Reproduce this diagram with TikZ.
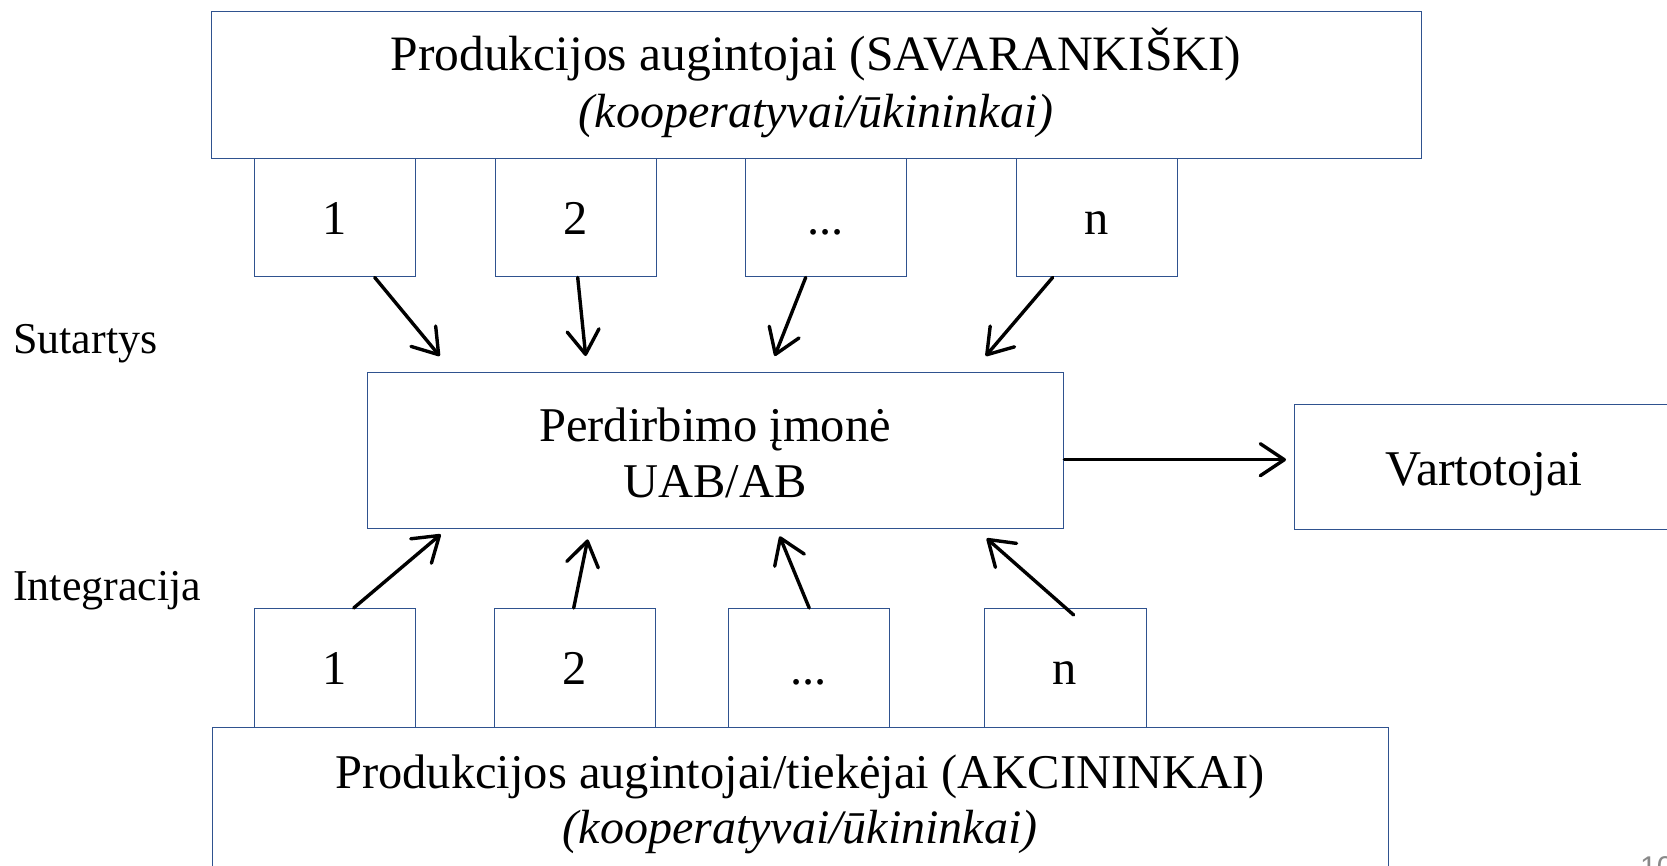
\documentclass[tikz,border=0pt]{standalone}
\usepackage{fontspec}
\setmainfont{Liberation Serif}
\newfontfamily\pagefont{Liberation Sans}
\usetikzlibrary{arrows.meta,calc}
\definecolor{boxblue}{RGB}{47,82,143}
\definecolor{pagegrey}{RGB}{137,137,137}
\begin{document}
\begin{tikzpicture}[x=1pt,y=-1pt,
  box/.style={draw=boxblue, line width=1.4pt, rectangle, inner sep=0pt, anchor=north west},
  txt/.style={inner sep=0pt, anchor=base, font=\fontsize{48.5}{56}\selectfont},
  itxt/.style={inner sep=0pt, anchor=base, font=\fontsize{48}{56}\selectfont\itshape},
  lbl/.style={inner sep=0pt, anchor=base west, font=\fontsize{44}{52}\selectfont},
  arr/.style={line width=3.4pt, line cap=round, -{Straight Barb[length=24pt,width=32pt,round]}}
]
\fill[white] (0,0) rectangle (1667,865);
\useasboundingbox (0,0) rectangle (1667,865);

% top group
\node[box, minimum width=1210, minimum height=147] (top) at (211,11) {};
\node[txt, font=\fontsize{49.5}{56}\selectfont] (toptext1) at (816,70) {Produkcijos augintojai (SAVARANKIŠKI)};
\node[itxt] (toptext2) at (816,127) {(kooperatyvai/ūkininkai)};

\node[box, minimum width=161, minimum height=118] (t1) at (254,158) {};
\node[box, minimum width=161, minimum height=118] (t2) at (495,158) {};
\node[box, minimum width=161, minimum height=118] (t3) at (745,158) {};
\node[box, minimum width=161, minimum height=118] (tn) at (1016,158) {};
\node[txt] (t1l) at (334.5,234) {1};
\node[txt] (t2l) at (575.5,234) {2};
\node[txt] (t3l) at (825.5,234) {...};
\node[txt] (tnl) at (1096.5,234) {n};

% middle
\node[box, minimum width=696, minimum height=156] (mid) at (367,372) {};
\node[txt] (midtext1) at (715,441) {Perdirbimo įmonė};
\node[txt] (midtext2) at (715,497) {UAB/AB};

\node[box, minimum width=450, minimum height=125] (cons) at (1294,404) {};
\node[inner sep=0pt, anchor=base, font=\fontsize{50}{60}\selectfont] (constext) at (1484,485) {Vartotojai};

% side labels
\node[lbl] (sut) at (13,353) {Sutartys};
\node[lbl] (integ) at (13,600) {Integracija};

% bottom group
\node[box, minimum width=161, minimum height=119] (b1) at (254,608) {};
\node[box, minimum width=161, minimum height=119] (b2) at (494,608) {};
\node[box, minimum width=161, minimum height=119] (b3) at (728,608) {};
\node[box, minimum width=162, minimum height=119] (bn) at (984,608) {};
\node[txt] (b1l) at (334.5,684) {1};
\node[txt] (b2l) at (574.5,684) {2};
\node[txt] (b3l) at (808.5,684) {...};
\node[txt] (bnl) at (1065,684) {n};

\node[box, minimum width=1176, minimum height=200] (bot) at (212,727) {};
\node[txt] (bottext1) at (800,788) {Produkcijos augintojai/tiekėjai (AKCININKAI)};
\node[itxt] (bottext2) at (800,843) {(kooperatyvai/ūkininkai)};

% arrows top -> middle
\draw[arr] ([xshift=39.5pt]t1.south) -- ([xshift=-276pt,yshift=16pt]mid.north);
\draw[arr] ([xshift=1.5pt]t2.south) -- ([xshift=-130pt,yshift=16pt]mid.north);
\draw[arr] ([xshift=-20.5pt]t3.south) -- ([xshift=59pt,yshift=16pt]mid.north);
\draw[arr] ([xshift=-44.5pt]tn.south) -- ([xshift=270pt,yshift=16pt]mid.north);

% arrows bottom -> middle
\draw[arr] ([xshift=18.5pt]b1.north) -- ([xshift=-275pt,yshift=-5pt]mid.south);
\draw[arr] ([xshift=-1.5pt]b2.north) -- ([xshift=-128pt,yshift=-10pt]mid.south);
\draw[arr] ([xshift=0pt]b3.north) -- ([xshift=64pt,yshift=-7pt]mid.south);
\draw[arr] ([xshift=8pt,yshift=-7pt]bn.north) -- ([xshift=271pt,yshift=-9pt]mid.south);

% middle -> consumers
\draw[arr] ([yshift=-9pt]mid.east) -- ([xshift=-8pt,yshift=7.5pt]cons.west);

% page number (cut by the page edge, as in the reference)
\node[inner sep=0pt, anchor=north west, font=\pagefont\fontsize{30}{36}\selectfont, text=pagegrey] (pg) at (1640,856) {10};
\end{tikzpicture}
\end{document}
